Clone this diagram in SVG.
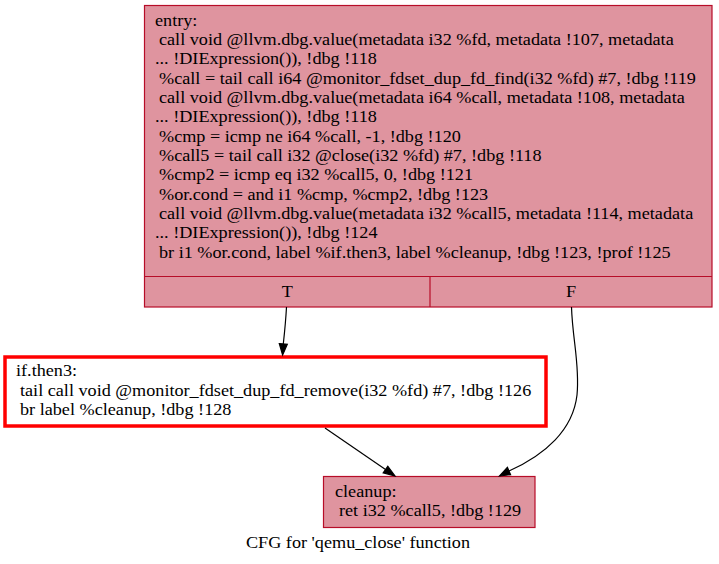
<svg xmlns="http://www.w3.org/2000/svg" width="719" height="564" viewBox="0 0 719 564">
<style>
text{font-family:"Liberation Serif","Times New Roman",serif;font-size:16.1px;fill:#000}
.blk{fill:#df949f;stroke:#b70d28;stroke-width:1.2}
.sep{stroke:#b70d28;stroke-width:1.2;fill:none}
.hot{fill:#fff;stroke:#ff0000;stroke-width:3.5}
.edge{fill:none;stroke:#000;stroke-width:1.2}
.head{fill:#000;stroke:#000;stroke-width:1.2}
</style>
<rect width="719" height="564" fill="#fff"/>
<g id="entry">
<rect class="blk" x="144.5" y="5.5" width="567.5" height="301.5"/>
<line class="sep" x1="144.5" y1="276.5" x2="712" y2="276.5"/>
<line class="sep" x1="430" y1="276.5" x2="430" y2="307"/>
<g transform="scale(1.13 1)">
<text x="137.17" y="25.7">entry:</text>
<text x="140.71" y="45">call void @llvm.dbg.value(metadata i32 %fd, metadata !107, metadata</text>
<text x="137.17" y="64.3">... !DIExpression()), !dbg !118</text>
<text x="140.71" y="83.7">%call = tail call i64 @monitor_fdset_dup_fd_find(i32 %fd) #7, !dbg !119</text>
<text x="140.71" y="103">call void @llvm.dbg.value(metadata i64 %call, metadata !108, metadata</text>
<text x="137.17" y="122.3">... !DIExpression()), !dbg !118</text>
<text x="140.71" y="141.7">%cmp = icmp ne i64 %call, -1, !dbg !120</text>
<text x="140.71" y="161">%call5 = tail call i32 @close(i32 %fd) #7, !dbg !118</text>
<text x="140.71" y="180.3">%cmp2 = icmp eq i32 %call5, 0, !dbg !121</text>
<text x="140.71" y="199.6">%or.cond = and i1 %cmp, %cmp2, !dbg !123</text>
<text x="140.71" y="219">call void @llvm.dbg.value(metadata i32 %call5, metadata !114, metadata</text>
<text x="137.17" y="238.3">... !DIExpression()), !dbg !124</text>
<text x="140.71" y="257.7">br i1 %or.cond, label %if.then3, label %cleanup, !dbg !123, !prof !125</text>
<text x="254.16" y="297" text-anchor="middle">T</text>
<text x="505.31" y="297" text-anchor="middle">F</text>
</g>
</g>
<g id="if.then3">
<rect class="hot" x="5" y="357" width="541" height="69"/>
<g transform="scale(1.13 1)">
<text x="14.16" y="376.5">if.then3:</text>
<text x="17.7" y="396">tail call void @monitor_fdset_dup_fd_remove(i32 %fd) #7, !dbg !126</text>
<text x="17.7" y="415.3">br label %cleanup, !dbg !128</text>
</g>
</g>
<g id="cleanup">
<rect class="blk" x="323.5" y="476.5" width="211.5" height="51"/>
<g transform="scale(1.13 1)">
<text x="296.46" y="497">cleanup:</text>
<text x="300" y="516.5">ret i32 %call5, !dbg !129</text>
</g>
</g>
<g id="connectors">
<path class="edge" d="M286.5,307 C285.8,320 284.5,333 283.3,344"/>
<polygon class="head" points="279.3,343.6 287.3,344.2 282.6,355"/>
<path class="edge" d="M325,428 L385.5,469.5"/>
<polygon class="head" points="383.2,472.8 387.8,466.2 395,476"/>
<path class="edge" d="M571.5,307 C572.5,340 580,365 577,395 C573,430 545,455 509,471"/>
<polygon class="head" points="510.6,474.7 507.4,467.3 499.5,476"/>
</g>
<g transform="scale(1.13 1)">
<text x="316.81" y="548" text-anchor="middle">CFG for 'qemu_close' function</text>
</g>
</svg>
